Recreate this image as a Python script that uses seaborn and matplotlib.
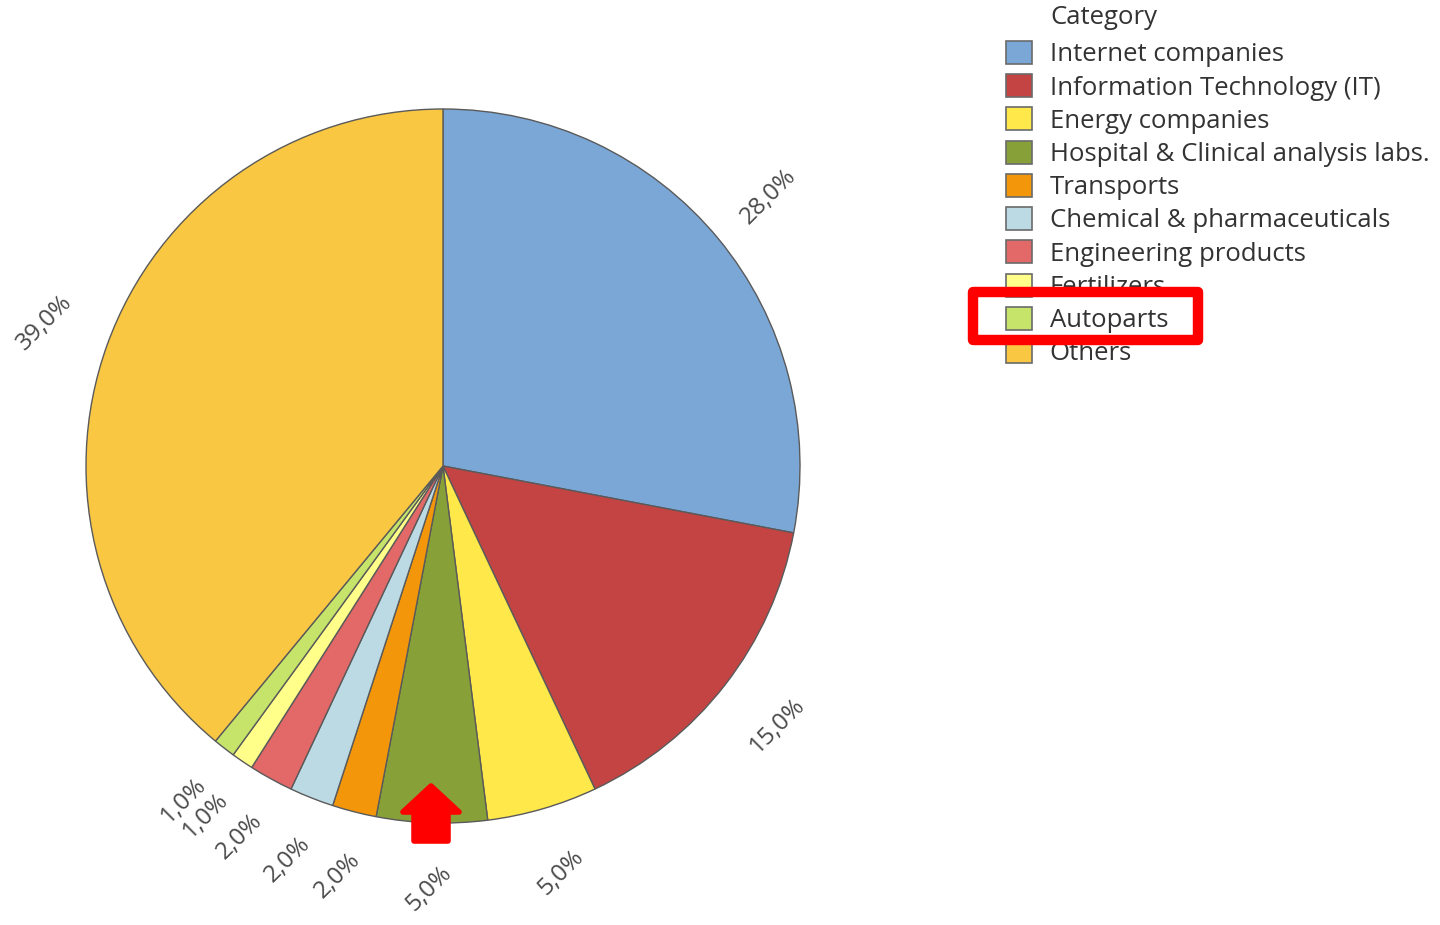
import matplotlib
matplotlib.use("Agg")
import matplotlib.pyplot as plt
import seaborn as sns
from matplotlib.patches import Patch, Rectangle, Polygon

sns.set_style("white")
plt.rcParams["font.family"] = ["Open Sans", "DejaVu Sans"]

# data
categories = ["Internet companies", "Information Technology (IT)", "Energy companies",
              "Hospital & Clinical analysis labs.", "Transports", "Chemical & pharmaceuticals",
              "Engineering products", "Fertilizers", "Autoparts", "Others"]
shares = [28.0, 15.0, 5.0, 5.0, 2.0, 2.0, 2.0, 1.0, 1.0, 39.0]
colors = ["#7BA7D7", "#C44444", "#FFE84A", "#88A038", "#F39609",
          "#BBDAE4", "#E36868", "#FFFF8A", "#C6E46A", "#FAC742"]
pct_labels = [f"{v:.1f}%".replace(".", ",") for v in shares]

W, H, DPI = 1440, 925, 100
fig = plt.figure(figsize=(W / DPI, H / DPI), dpi=DPI)
ax = fig.add_axes([0, 0, 1, 1])

# pie geometry in pixels
cx, cy, R = 443, 466, 357

wedges, texts = ax.pie(shares, colors=colors, labels=pct_labels, startangle=90,
                       counterclock=False, labeldistance=1.185,
                       wedgeprops=dict(edgecolor="#5a5a5a", linewidth=1.0),
                       textprops=dict(fontsize=17.5, color="#4a4a4a", rotation=45))
for t in texts:
    t.set_ha("center")
    t.set_va("center")

ax.set_xlim(-cx / R, (W - cx) / R)
ax.set_ylim(-(H - cy) / R, cy / R)
ax.set_aspect("auto")
ax.axis("off")

# legend
handles = [Patch(facecolor=c, edgecolor="#6a6a6a", linewidth=1.2) for c in colors]
fig.legend(handles, categories, loc="upper left",
           bbox_to_anchor=(1006 / W, 1 - 41 / H), frameon=False,
           fontsize=18.5, handlelength=1.0, handleheight=1.0,
           handletextpad=0.7, labelspacing=0.27, borderpad=0, borderaxespad=0,
           labelcolor="#333333")
fig.text(1050 / W, 1 - 18 / H, "Category", fontsize=18.5, color="#333333",
         ha="left", va="center")

# red highlight box around "Autoparts" (drawn on top of the legend)
fig.add_artist(Rectangle((973 / W, 1 - 340 / H), 225 / W, 48 / H,
                         transform=fig.transFigure, fill=False, zorder=10,
                         edgecolor="#FF0000", linewidth=7.5, joinstyle="round"))

# red arrow pointing at the hospital slice
arrow_px = [(431, 786), (459, 812), (448, 812), (448, 841), (414, 841), (414, 812), (403, 812)]
fig.add_artist(Polygon([(x / W, 1 - y / H) for x, y in arrow_px], closed=True,
                       transform=fig.transFigure, facecolor="#FF0000", zorder=10,
                       edgecolor="#FF0000", linewidth=4, joinstyle="round"))

fig.savefig("out.png", dpi=DPI, facecolor="white")
